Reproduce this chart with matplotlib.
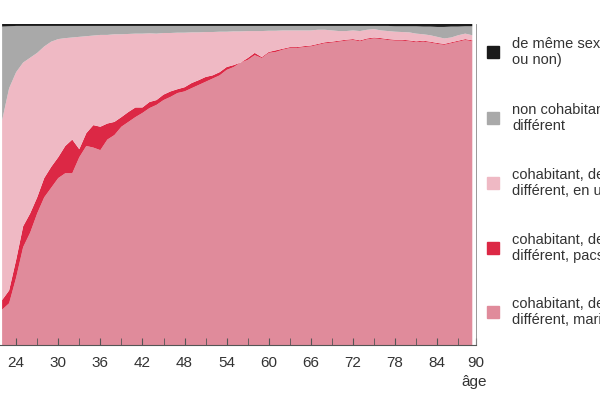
import numpy as np
import matplotlib
matplotlib.use("Agg")
import matplotlib.pyplot as plt

plt.rcParams['font.family'] = ['Liberation Sans', 'DejaVu Sans']

ages = list(range(22, 90))
# cumulative upper boundaries (%)
marie_top = [11, 13, 21, 30.5, 35, 41, 46, 49, 52, 53.5, 53.5, 58.5, 62, 61.5, 60.7, 64, 65.4, 68, 69.5, 71,
             72.3, 73.8, 74.8, 76.3, 77.3, 78.5, 79, 80, 81, 82, 83, 84, 85.7, 86.6, 88, 88.8, 90.3, 89.4, 91, 91.3,
             92, 92.5, 92.5, 92.8, 93, 93.5, 94, 94.2, 94.5, 94.8, 95, 94.6, 95.2, 95.5, 95.3, 95, 94.8, 94.8, 94.6, 94.3,
             94.5, 94.2, 93.8, 93.5, 94, 94.5, 95, 94.6]
pacse_top = [14, 17, 26.5, 37, 41, 46, 52, 55.5, 58.5, 62, 64, 61, 66, 68.5, 68, 69, 69.5, 71, 72.6, 74,
             74, 75.7, 76.3, 78, 79, 79.7, 80.3, 81.6, 82.5, 83.5, 84, 85, 86.6, 87.2, 88, 89.4, 91, 89.7, 91.3, 91.8,
             92.3, 92.8, 92.8, 93.1, 93.3, 93.8, 94.3, 94.5, 94.8, 95.1, 95.3, 94.9, 95.5, 95.8, 95.6, 95.3, 95.1, 95.1, 94.9, 94.6,
             94.8, 94.5, 94.1, 93.8, 94.3, 94.8, 95.3, 94.9]
union_top = [70, 80, 85, 88, 89.5, 91, 93, 94.5, 95.3, 95.6, 95.8, 96, 96.2, 96.4, 96.6, 96.6, 96.8, 96.8, 96.9, 97,
             97, 97.1, 97, 97.2, 97.2, 97.3, 97.3, 97.4, 97.4, 97.5, 97.5, 97.6, 97.6, 97.7, 97.7, 97.8, 97.8, 97.8, 97.9, 97.9,
             98, 98, 98, 98, 98, 98.2, 98.2, 98, 97.8, 97.8, 98, 97.8, 98.2, 98.4, 98, 97.8, 97.6, 97.5, 97.4, 97,
             96.8, 96.5, 96, 95.5, 95.8, 96.5, 97, 96.5]
noncohab_top = [99.2, 99.3, 99.4, 99.4, 99.4, 99.4, 99.4, 99.4, 99.4, 99.4, 99.4, 99.4, 99.4, 99.4, 99.4, 99.4, 99.4, 99.4, 99.4, 99.4,
                99.4, 99.4, 99.4, 99.4, 99.4, 99.4, 99.4, 99.4, 99.4, 99.4, 99.4, 99.4, 99.4, 99.4, 99.4, 99.4, 99.4, 99.4, 99.4, 99.4,
                99.4, 99.4, 99.4, 99.4, 99.4, 99.4, 99.4, 99.4, 99.4, 99.4, 99.4, 99.4, 99.4, 99.4, 99.4, 99.4, 99.3, 99.3, 99.3, 99.3,
                99.2, 99.2, 99.1, 99.1, 99.2, 99.2, 99.3, 99.3]
meme_top = [100] * len(ages)

labels = ["de même sexe (cohabitant\nou non)", "non cohabitant, de sexe\ndifférent",
          "cohabitant, de sexe\ndifférent, en union libre", "cohabitant, de sexe\ndifférent, pacsé",
          "cohabitant, de sexe\ndifférent, marié"]
colors = ["#1a1a1a", "#a9a9a9", "#efb9c4", "#dc2845", "#e08b9b"]
xticks = [24, 30, 36, 42, 48, 54, 60, 66, 72, 78, 84, 90]

tops = np.array([marie_top, pacse_top, union_top, noncohab_top, meme_top])
shares = np.diff(np.vstack([np.zeros(len(ages)), tops]), axis=0)

fig = plt.figure(figsize=(6, 4), dpi=100)
ax = fig.add_axes([0.0, 0.1375, 0.793, 0.8025])
ax.stackplot(ages, shares, colors=colors[::-1], linewidth=0)
ax.set_xlim(21.7, 89.5)
ax.set_ylim(0, 100)
ax.set_yticks([])
tick_pos = [t if t < 90 else 89.5 for t in xticks]
ax.set_xticks(tick_pos)
ax.set_xticklabels([str(t) for t in xticks], fontsize=11, color="#333333")
ax.set_xticks(np.arange(27, 89, 6), minor=True)
ax.tick_params(axis="x", which="both", direction="in", length=5, color="#555555", pad=8)
for s in ["left", "top"]:
    ax.spines[s].set_visible(False)
ax.spines["bottom"].set_color("#555555")
ax.spines["right"].set_color("#888888")
ax.spines["right"].set_linewidth(0.6)
fig.text(0.79, 0.035, "âge", fontsize=11, color="#333333", ha="center")

ys = [52, 118, 183, 248, 312]
for lab, col, y in zip(labels, colors, ys):
    fig.patches.append(plt.Rectangle((487 / 600, 1 - (y + 6) / 400), 12 / 600, 12 / 400,
                                     transform=fig.transFigure, color=col))
    fig.text(512 / 600, 1 - y / 400, lab, fontsize=10.5, color="#333333", va="center",
             linespacing=1.2)

fig.savefig("out.png", dpi=100)
